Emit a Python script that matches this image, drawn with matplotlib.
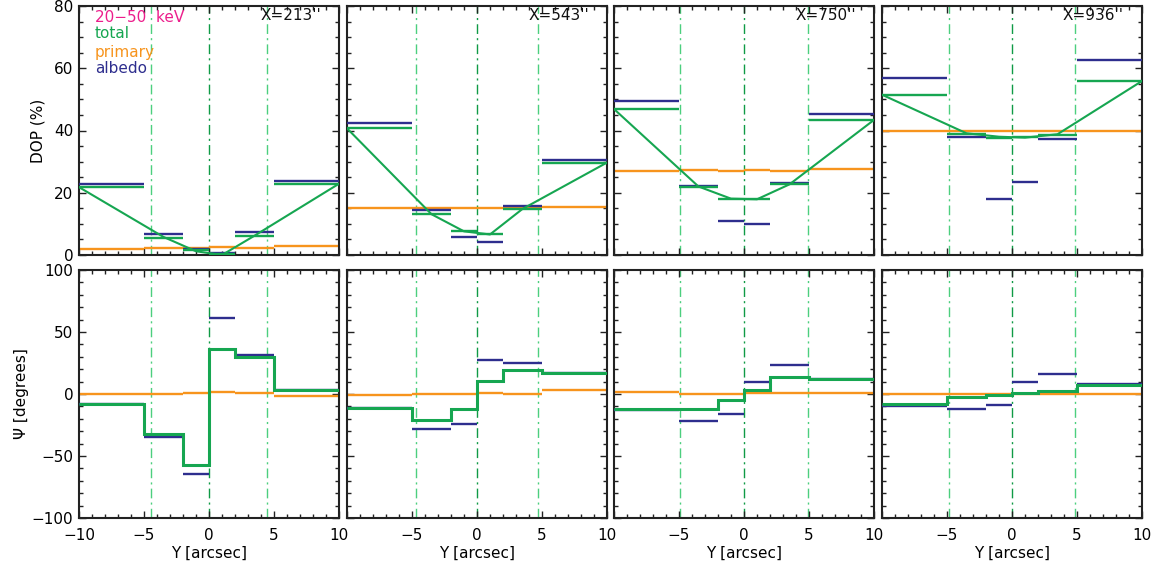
import matplotlib
matplotlib.use("Agg")
import matplotlib.pyplot as plt
from matplotlib.ticker import MultipleLocator
import numpy as np

plt.rcParams['font.family'] = ['DejaVu Sans']

# ---------------- data ----------------
bin_edges = [-10, -5, -2, 0, 2, 5, 10]
panel_titles = ["X=213''", "X=543''", "X=750''", "X=936''"]
source_edge = [4.45, 4.7, 4.95, 4.85]   # dash-dot source boundaries (+/-)

# DOP (%) per bin
dop_total = [
    [21.8, 5.6, 1.5, 0.3, 6.2, 22.9],
    [40.7, 13.1, 7.6, 6.6, 14.8, 29.7],
    [46.9, 22.0, 18.1, 17.9, 22.7, 43.4],
    [51.5, 38.9, 37.7, 38.0, 38.6, 55.9],
]
dop_albedo = [
    [22.8, 6.6, 1.8, 0.7, 7.3, 23.8],
    [42.5, 14.4, 5.9, 4.3, 15.7, 30.4],
    [49.6, 22.2, 11.0, 10.0, 23.0, 45.4],
    [56.9, 38.0, 18.0, 23.5, 37.3, 62.6],
]
dop_primary = [
    [1.8, 2.4, 2.2, 2.6, 2.3, 2.9],
    [15.2, 15.0, 15.1, 15.2, 15.1, 15.4],
    [26.9, 27.3, 27.1, 27.3, 27.0, 27.6],
    [40.0, 40.0, 40.0, 40.0, 40.0, 40.0],
]
# connecting curve of total DOP
curve_x = [-10, -3.5, -1, 1, 3.5, 10]
dop_curve = [
    [21.8, 5.8, 1.2, 0.0, 6.2, 22.9],
    [40.7, 13.1, 7.6, 6.6, 14.8, 29.7],
    [46.9, 22.0, 18.1, 17.9, 22.7, 43.4],
    [51.5, 39.1, 38.0, 37.7, 38.8, 55.9],
]

# Psi (degrees) per bin
psi_total = [
    [-7.8, -32.5, -57.3, 36.3, 30.1, 3.2],
    [-11.0, -21.2, -11.8, 10.8, 19.6, 16.9],
    [-12.4, -12.1, -5.1, 3.2, 13.4, 11.8],
    [-7.8, -2.4, -0.5, 1.1, 2.4, 7.0],
]
psi_albedo = [
    [-8.0, -34.4, -64.5, 61.3, 31.5, 3.5],
    [-11.3, -28.2, -24.5, 27.7, 24.7, 17.3],
    [-12.9, -21.5, -15.9, 9.9, 23.7, 12.4],
    [-9.7, -11.8, -8.6, 9.7, 16.4, 8.3],
]
psi_primary = [
    [0.3, 0.0, 1.0, 1.3, 1.0, -1.6],
    [-0.8, 0.3, 0.3, 1.0, -0.3, 3.5],
    [1.3, 0.3, -0.3, 0.5, 0.5, 0.5],
    [0.0, 0.0, 0.0, 0.0, 0.0, 0.0],
]

# ---------------- style ----------------
C_TOTAL = '#16a651'
C_PRIM = '#f7941d'
C_ALB = '#2e2e8e'
C_KEV = '#ec1e8c'
C_VL_OUT = '#4ccf7e'
C_VL_MID = '#0f9a45'

fig = plt.figure(figsize=(11.53, 5.68), dpi=100)
W = 1153.0
H = 568.0
lefts = [79, 347, 614, 882]
pw = 260
top_row = (6, 255)
bot_row = (270, 518)


def style_axes(ax, ymajor, yminor):
    ax.xaxis.set_major_locator(MultipleLocator(5))
    ax.xaxis.set_minor_locator(MultipleLocator(1))
    ax.yaxis.set_major_locator(MultipleLocator(ymajor))
    ax.yaxis.set_minor_locator(MultipleLocator(yminor))
    ax.tick_params(which='both', direction='in', top=True, right=True,
                   width=1.0, labelsize=11, color='#222222')
    ax.tick_params(which='major', length=5, pad=4)
    ax.tick_params(axis='x', which='major', pad=7)
    ax.tick_params(which='minor', length=3)
    for s in ax.spines.values():
        s.set_linewidth(1.5)
        s.set_color('#222222')


def vlines(ax, e):
    ax.axvline(-e, color=C_VL_OUT, lw=1.0, ls=(0, (7, 3, 1.5, 3)), zorder=1)
    ax.axvline(e, color=C_VL_OUT, lw=1.0, ls=(0, (7, 3, 1.5, 3)), zorder=1)
    ax.axvline(0, color=C_VL_MID, lw=1.0, ls=(0, (7, 3, 1.5, 3)), zorder=1)


def segs(ax, vals, color, lw, z):
    for i, v in enumerate(vals):
        ax.hlines(v, bin_edges[i], bin_edges[i + 1], colors=color,
                  lw=lw, zorder=z)


for j in range(4):
    # ---------- top: DOP ----------
    ax = fig.add_axes([lefts[j] / W, 1 - top_row[1] / H, pw / W,
                       (top_row[1] - top_row[0]) / H])
    vlines(ax, source_edge[j])
    segs(ax, dop_primary[j], C_PRIM, 1.7, 2)
    segs(ax, dop_albedo[j], C_ALB, 1.7, 3)
    segs(ax, dop_total[j], C_TOTAL, 1.7, 4)
    ax.plot(curve_x, dop_curve[j], color=C_TOTAL, lw=1.5, zorder=5)
    ax.set_xlim(-10, 10)
    ax.set_ylim(0, 80)
    style_axes(ax, 20, 5)
    ax.tick_params(labelbottom=False)
    if j == 0:
        ax.set_ylabel('DOP (%)', fontsize=11, labelpad=6)
        tx = [(0.062, 0.952, '20\u221250  keV', C_KEV),
              (0.062, 0.888, 'total', C_TOTAL),
              (0.062, 0.815, 'primary', C_PRIM),
              (0.062, 0.751, 'albedo', C_ALB)]
        for x, y, t, c in tx:
            ax.text(x, y, t, color=c, fontsize=11, transform=ax.transAxes,
                    ha='left', va='center')
    else:
        ax.tick_params(labelleft=False)
    ax.text(0.93, 0.962, panel_titles[j], fontsize=11, transform=ax.transAxes,
            ha='right', va='center', color='#111111')

    # ---------- bottom: Psi ----------
    bx = fig.add_axes([lefts[j] / W, 1 - bot_row[1] / H, pw / W,
                       (bot_row[1] - bot_row[0]) / H])
    vlines(bx, source_edge[j])
    segs(bx, psi_primary[j], C_PRIM, 1.7, 2)
    segs(bx, psi_albedo[j], C_ALB, 1.7, 3)
    bx.stairs(psi_total[j], bin_edges, baseline=None, color=C_TOTAL, lw=2.2,
              zorder=4)
    bx.set_xlim(-10, 10)
    bx.set_ylim(-100, 100)
    style_axes(bx, 50, 10)
    bx.set_xlabel('Y [arcsec]', fontsize=11, labelpad=2)
    bx.set_xticks([-10, -5, 0, 5, 10])
    if j == 0:
        bx.set_ylabel('\u03a8 [degrees]', fontsize=11, labelpad=2)
        bx.set_xticklabels(['\u221210', '\u22125', '0', '5', '10'])
    else:
        bx.tick_params(labelleft=False)
        bx.set_xticklabels(['', '\u22125', '0', '5', '10'])

fig.savefig('out.png', dpi=100)
